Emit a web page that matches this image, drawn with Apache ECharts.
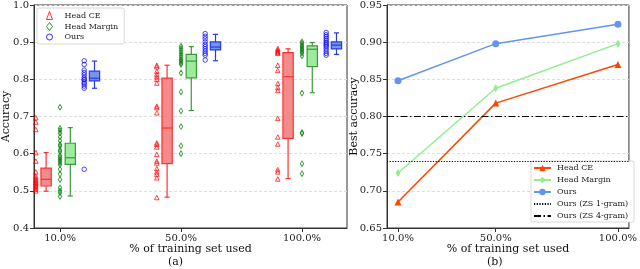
<!DOCTYPE html>
<html><head><meta charset="utf-8">
<script src="https://cdn.jsdelivr.net/npm/echarts@6/dist/echarts.min.js"></script>
<style>html,body{margin:0;padding:0;background:#fff}#c{width:640px;height:269px}</style>
</head><body><div id="c"></div>
<script>
// ---------- data ----------
const categories = ['10.0%', '50.0%', '100.0%'];
const methods = ['Head CE', 'Head Margin', 'Ours'];

// panel (a): individual run accuracies
const ceScatter10 = [0.697,0.685,0.665,0.603,0.58,0.551,0.54,0.535,0.53,0.527,0.523,0.52,0.516,0.512,0.508,0.504,0.5];
const ceScatter50 = [0.838,0.834,0.822,0.814,0.807,0.80,0.79,0.728,0.724,0.71,0.629,0.625,0.618,0.598,0.58,0.575,0.56,0.551,0.545,0.535,0.482];
const ceScatter100 = [0.883,0.879,0.876,0.873,0.87,0.838,0.824,0.789,0.778,0.77,0.695,0.645,0.626,0.557,0.551,0.532];
const marginScatter10 = [0.725,0.668,0.662,0.655,0.645,0.635,0.625,0.62,0.61,0.605,0.595,0.59,0.585,0.58,0.575,0.57,0.558,0.545,0.53,0.508,0.5,0.495,0.485];
const marginScatter50 = [0.889,0.883,0.877,0.871,0.865,0.859,0.853,0.849,0.844,0.84,0.817,0.766,0.715,0.673,0.621,0.6];
const marginScatter100 = [0.901,0.897,0.892,0.888,0.883,0.879,0.874,0.87,0.863,0.763,0.657,0.654,0.573,0.546];
const oursScatter10 = [0.85,0.84,0.825,0.818,0.812,0.805,0.8,0.798,0.792,0.788,0.782,0.776,0.558];
const oursScatter50 = [0.923,0.916,0.909,0.901,0.894,0.888,0.882,0.876,0.87,0.865,0.852];
const oursScatter100 = [0.926,0.92,0.915,0.91,0.905,0.9,0.896,0.892,0.888,0.882,0.876,0.87,0.865];

// panel (a): box stats [lower whisker, Q1, median, Q3, upper whisker]
const ceBox = [[0.499,0.513,0.531,0.561,0.603],[0.483,0.573,0.669,0.803,0.838],[0.533,0.641,0.807,0.872,0.882]];
const marginBox = [[0.486,0.571,0.589,0.628,0.670],[0.716,0.804,0.849,0.867,0.888],[0.764,0.834,0.881,0.890,0.899]];
const oursBox = [[0.776,0.796,0.803,0.822,0.849],[0.850,0.879,0.887,0.901,0.921],[0.867,0.882,0.892,0.901,0.925]];

// panel (b)
const trainPct = [10, 50, 100];
const bestCE = [0.685, 0.818, 0.870];
const bestMargin = [0.724, 0.838, 0.898];
const bestOurs = [0.848, 0.898, 0.924];
const zs1gram = 0.74;
const zs4gram = 0.80;

// ---------- styling ----------
const FONT = 'DejaVu Serif';
const AX = '#333';
const GRIDC = '#dedede';
const scatterOff = [-0.2, 0, 0.2];
const boxOff = [-0.115, 0.085, 0.285];
const BOXW = 0.085;

const scatterSets = [[ceScatter10, ceScatter50, ceScatter100],[marginScatter10, marginScatter50, marginScatter100],[oursScatter10, oursScatter50, oursScatter100]];
const boxSets = [ceBox, marginBox, oursBox];
const scatterStyle = [
  {symbol:'triangle', size:4.5, color:'#ff0000'},
  {symbol:'diamond', size:[3.5,5.5], color:'#008000'},
  {symbol:'circle', size:4.5, color:'#0000ff'}
];
const boxStyle = [
  {fill:'rgba(240,110,110,0.8)', stroke:'#ff3030'},
  {fill:'rgba(140,232,140,0.85)', stroke:'#3a9a3a'},
  {fill:'rgba(90,130,232,0.85)', stroke:'#2a3ae0'}
];

function boxRender(st){
  return function(params, api){
    const x = api.value(0);
    const lo = api.coord([x, api.value(1)]);
    const q1 = api.coord([x, api.value(2)]);
    const md = api.coord([x, api.value(3)]);
    const q3 = api.coord([x, api.value(4)]);
    const hi = api.coord([x, api.value(5)]);
    const hw = api.size([BOXW, 0])[0] / 2;
    const cw = hw / 2;
    const cx = lo[0];
    const ls = {stroke: st.stroke, lineWidth: 1.2};
    return {type:'group', children:[
      {type:'line', shape:{x1:cx,y1:q1[1],x2:cx,y2:lo[1]}, style:ls},
      {type:'line', shape:{x1:cx,y1:q3[1],x2:cx,y2:hi[1]}, style:ls},
      {type:'line', shape:{x1:cx-cw,y1:lo[1],x2:cx+cw,y2:lo[1]}, style:ls},
      {type:'line', shape:{x1:cx-cw,y1:hi[1],x2:cx+cw,y2:hi[1]}, style:ls},
      {type:'rect', shape:{x:cx-hw,y:q3[1],width:2*hw,height:q1[1]-q3[1]}, style:{fill:st.fill, stroke:st.stroke, lineWidth:1.2}},
      {type:'line', shape:{x1:cx-hw,y1:md[1],x2:cx+hw,y2:md[1]}, style:ls}
    ]};
  };
}

const series = [];
methods.forEach((m, k) => {
  const pts = [];
  scatterSets[k].forEach((arr, i) => arr.forEach(v => pts.push([i + 1 + scatterOff[k], v])));
  const s = scatterStyle[k];
  series.push({
    name: m, type:'scatter', xAxisIndex:0, yAxisIndex:0, data: pts,
    symbol: s.symbol, symbolSize: s.size, z: 3,
    itemStyle:{color:'rgba(0,0,0,0)', borderColor:s.color, borderWidth:0.9},
    emphasis:{disabled:true}
  });
  const bd = boxSets[k].map((b, i) => [i + 1 + boxOff[k]].concat(b));
  series.push({
    type:'custom', xAxisIndex:0, yAxisIndex:0, data: bd, z: 2,
    encode:{x:0, y:[1,2,3,4,5]},
    renderItem: boxRender(boxStyle[k]), silent:true
  });
});

const lineDefs = [
  {name:'b:ce', label:'Head CE', data:bestCE, color:'#ff4500', symbol:'triangle', size:7},
  {name:'b:margin', label:'Head Margin', data:bestMargin, color:'#90ee90', symbol:'diamond', size:[5,8]},
  {name:'b:ours', label:'Ours', data:bestOurs, color:'#6495ed', symbol:'circle', size:7}
];
const labelMap = {};
lineDefs.forEach(d => {
  labelMap[d.name] = d.label;
  series.push({
    name:d.name, type:'line', xAxisIndex:1, yAxisIndex:1,
    data: trainPct.map((x, i) => [x, d.data[i]]),
    symbol:d.symbol, symbolSize:d.size, z:3,
    lineStyle:{color:d.color, width:1.5}, itemStyle:{color:d.color},
    emphasis:{disabled:true}
  });
});
const refLines = [
  {name:'b:zs1', label:'Ours (ZS 1-gram)', val:zs1gram, type:[1.2,1.5]},
  {name:'b:zs4', label:'Ours (ZS 4-gram)', val:zs4gram, type:[7,2.5,1.5,2.5]}
];
refLines.forEach(r => {
  labelMap[r.name] = r.label;
  series.push({
    name:r.name, type:'line', xAxisIndex:1, yAxisIndex:1, data:[], symbol:'none',
    lineStyle:{color:'#000', width:1, type:r.type}, itemStyle:{color:'#000'},
    markLine:{silent:true, symbol:'none', label:{show:false},
      lineStyle:{color:'#000', width:1, type:r.type}, data:[{yAxis:r.val}]}
  });
});

const axisCommon = {
  axisLine:{show:true, onZero:false, lineStyle:{color:AX, width:1}},
  axisTick:{show:true, inside:false, length:4, lineStyle:{color:AX}},
  axisLabel:{color:'#222', fontFamily:FONT, fontSize:10, margin:5},
  nameTextStyle:{color:'#111', fontFamily:FONT, fontSize:11},
  nameMoveOverlap:false
};

const option = {
  animation:false,
  backgroundColor:'#fff',
  grid:[
    {left:34, top:5, width:313, height:223, show:true, borderColor:AX, borderWidth:1, backgroundColor:'transparent'},
    {left:387, top:5, width:247, height:223, show:true, borderColor:AX, borderWidth:1, backgroundColor:'transparent'}
  ],
  xAxis:[
    Object.assign({}, axisCommon, {
      type:'value', gridIndex:0, min:0.785, max:3.372,
      name:'% of training set used', nameLocation:'middle', nameGap:16,
      splitLine:{show:false},
      axisTick:Object.assign({}, axisCommon.axisTick, {customValues:[1,2,3]}),
      axisLabel:Object.assign({}, axisCommon.axisLabel, {customValues:[1,2,3], formatter:v => categories[Math.round(v) - 1]})
    }),
    Object.assign({}, axisCommon, {
      type:'value', gridIndex:1, min:5.5, max:104.5,
      name:'% of training set used', nameLocation:'middle', nameGap:16,
      splitLine:{show:false},
      axisTick:Object.assign({}, axisCommon.axisTick, {customValues:trainPct}),
      axisLabel:Object.assign({}, axisCommon.axisLabel, {customValues:trainPct, formatter:v => categories[trainPct.indexOf(v)]})
    })
  ],
  yAxis:[
    Object.assign({}, axisCommon, {
      type:'value', gridIndex:0, min:0.4, max:1.0, interval:0.1,
      name:'Accuracy', nameLocation:'middle', nameGap:22,
      splitLine:{show:true, lineStyle:{color:GRIDC, type:[3,2], width:1}},
      axisLabel:Object.assign({}, axisCommon.axisLabel, {formatter:v => v.toFixed(1)})
    }),
    Object.assign({}, axisCommon, {
      type:'value', gridIndex:1, min:0.65, max:0.95, interval:0.05,
      name:'Best accuracy', nameLocation:'middle', nameGap:27,
      splitLine:{show:true, lineStyle:{color:GRIDC, type:[3,2], width:1}},
      axisLabel:Object.assign({}, axisCommon.axisLabel, {formatter:v => v.toFixed(2)})
    })
  ],
  legend:[
    {
      data:methods, orient:'vertical', left:37, top:8,
      padding:[3,6,3,9], itemGap:2, itemWidth:6, itemHeight:8,
      itemStyle:{borderWidth:1},
      backgroundColor:'#fff', borderColor:'#d8d8d8', borderWidth:1, borderRadius:2,
      textStyle:{fontFamily:FONT, fontSize:8, color:'#222', padding:[0,0,0,7], lineHeight:8},
      selectedMode:false
    },
    {
      data:lineDefs.map(d => d.name).concat(refLines.map(r => ({name:r.name, itemStyle:{color:'rgba(0,0,0,0)', borderColor:'rgba(0,0,0,0)', borderWidth:0}}))),
      formatter:n => labelMap[n] || n,
      orient:'vertical', left:531, top:161,
      padding:[3,6,2,2], itemGap:4, itemWidth:17, itemHeight:8,
      backgroundColor:'#fff', borderColor:'#d8d8d8', borderWidth:1, borderRadius:2,
      textStyle:{fontFamily:FONT, fontSize:8, color:'#222', padding:[0,0,0,1], lineHeight:8},
      selectedMode:false
    }
  ],
  graphic:[
    {type:'text', left:168, top:257, style:{text:'(a)', font:'11px "DejaVu Serif"', fill:'#111'}},
    {type:'text', left:487, top:257, style:{text:'(b)', font:'11px "DejaVu Serif"', fill:'#111'}}
  ],
  series: series
};

const chart = echarts.init(document.getElementById('c'), null, {renderer:'canvas'});
chart.setOption(option);
</script>
</body></html>
